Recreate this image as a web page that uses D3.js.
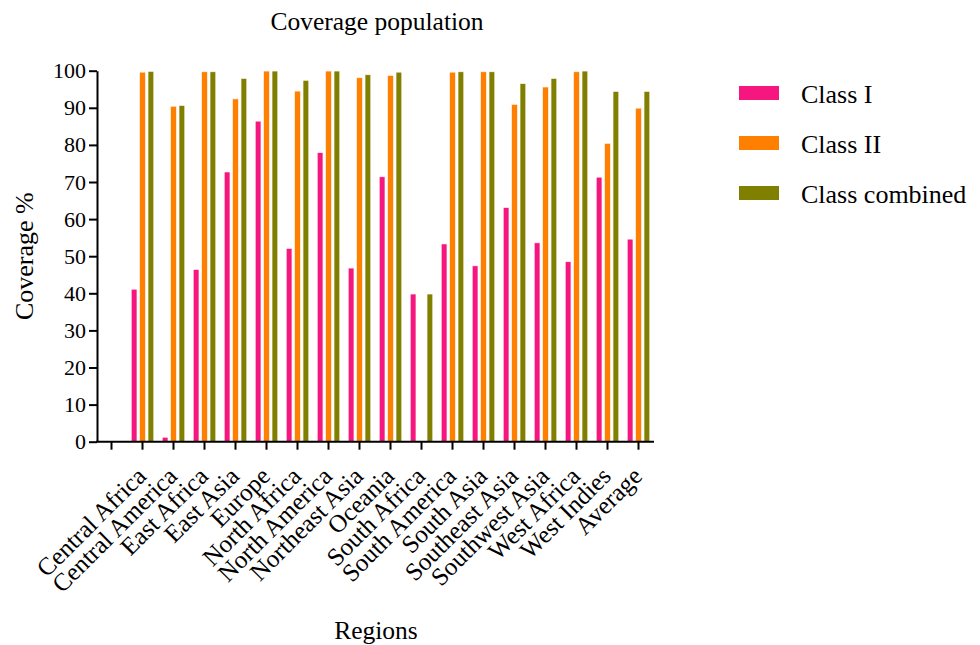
<!DOCTYPE html>
<html>
<head>
<meta charset="utf-8">
<script src="https://cdn.jsdelivr.net/npm/d3@7"></script>
<style>
  html, body { margin: 0; padding: 0; background: #fff; }
  svg { display: block; }
  svg text { font-family: "Liberation Serif", "Times New Roman", serif; fill: #000; }
</style>
</head>
<body>
<svg id="chart" width="980" height="645"></svg>
<script>
const regions = ["Central Africa", "Central America", "East Africa", "East Asia", "Europe",
  "North Africa", "North America", "Northeast Asia", "Oceania", "South Africa",
  "South America", "South Asia", "Southeast Asia", "Southwest Asia", "West Africa",
  "West Indies", "Average"];
const seriesNames = ["Class I", "Class II", "Class combined"];
const classI =        [41.1, 1.2, 46.4, 72.7, 86.4, 52.1, 77.9, 46.8, 71.4, 39.8, 53.3, 47.4, 63.1, 53.6, 48.5, 71.3, 54.6];
const classII =       [99.6, 90.4, 99.7, 92.4, 99.9, 94.5, 99.9, 98.1, 98.7, 0, 99.6, 99.7, 90.9, 95.6, 99.7, 80.4, 89.9];
const classCombined = [99.8, 90.6, 99.7, 97.9, 99.9, 97.4, 99.9, 98.9, 99.6, 39.8, 99.7, 99.7, 96.5, 97.9, 99.9, 94.4, 94.4];
const yTicks = [0, 10, 20, 30, 40, 50, 60, 70, 80, 90, 100];
const colors = ["#f5177f", "#ff7f00", "#7f7f00"];

const seriesValues = [classI, classII, classCombined];
const rows = regions.map((r, i) => ({ region: r, values: seriesValues.map(s => s[i]) }));

const svg = d3.select("#chart");
const plotLeft = 97, plotRight = 654, plotTop = 70.7, plotBottom = 441.7;
const serif = '"Liberation Serif", "Times New Roman", serif';

// leading blank slot as in the original axis
const x0 = d3.scaleBand().domain([" "].concat(regions)).range([96, 654]).padding(0);
const x1 = d3.scaleBand().domain(seriesNames).range([0, 22.5]).paddingInner(0.32).paddingOuter(0);
const y = d3.scaleLinear().domain([0, 100]).range([plotBottom, plotTop]);
const color = d3.scaleOrdinal().domain(seriesNames).range(colors);

// bars
const groups = svg.append("g").selectAll("g").data(rows).join("g")
  .attr("transform", d => `translate(${x0(d.region) + x0.bandwidth() / 2 - 11.25},0)`);
groups.selectAll("rect")
  .data(d => d.values.map((v, k) => ({ key: seriesNames[k], value: v })).filter(e => e.value > 0))
  .join("rect")
  .attr("x", e => x1(e.key))
  .attr("width", x1.bandwidth())
  .attr("y", e => y(e.value))
  .attr("height", e => y(0) - y(e.value))
  .attr("fill", e => color(e.key))
  .attr("stroke", "#fff4ee")
  .attr("stroke-width", 0.6);

// y axis
const yAxis = svg.append("g").attr("transform", `translate(${plotLeft},0)`)
  .call(d3.axisLeft(y).tickValues(yTicks).tickSize(8).tickSizeOuter(0).tickPadding(3));
yAxis.attr("font-family", null).attr("font-size", null);
yAxis.select(".domain").attr("stroke", "#000").attr("stroke-width", 2);
yAxis.selectAll(".tick line").attr("stroke", "#000").attr("stroke-width", 2);
yAxis.selectAll(".tick text").style("font-size", "22px").style("font-family", serif);

// x axis
const xAxis = svg.append("g").attr("transform", `translate(0,${plotBottom})`)
  .call(d3.axisBottom(x0).tickSize(8).tickSizeOuter(0).tickPadding(4));
xAxis.attr("font-family", null).attr("font-size", null);
xAxis.select(".domain").attr("stroke", "#000").attr("stroke-width", 2)
  .attr("d", `M${plotLeft - 1},0H${plotRight}`);
xAxis.selectAll(".tick line").attr("stroke", "#000").attr("stroke-width", 2);
xAxis.selectAll(".tick text")
  .style("font-size", "25px").style("font-family", serif)
  .attr("text-anchor", "end")
  .attr("dy", 0)
  .attr("transform", "translate(5,36) rotate(-45)")
  .attr("y", 0).attr("x", 0);

// title
svg.append("text").attr("x", 377).attr("y", 30).attr("text-anchor", "middle")
  .style("font-size", "25.5px").text("Coverage population");
// axis titles
svg.append("text").attr("transform", `translate(33,${(plotTop + plotBottom) / 2}) rotate(-90)`)
  .attr("text-anchor", "middle").style("font-size", "26px").text("Coverage %");
svg.append("text").attr("x", 376).attr("y", 639).attr("text-anchor", "middle")
  .style("font-size", "25.5px").text("Regions");

// legend
const legend = svg.append("g").selectAll("g").data(seriesNames).join("g")
  .attr("transform", (d, i) => `translate(739,${93 + i * 50})`);
legend.append("rect").attr("x", 0).attr("y", -7).attr("width", 40).attr("height", 14)
  .attr("fill", d => color(d));
legend.append("text").attr("x", 62).attr("y", 10).style("font-size", "26px").text(d => d);
</script>
</body>
</html>
